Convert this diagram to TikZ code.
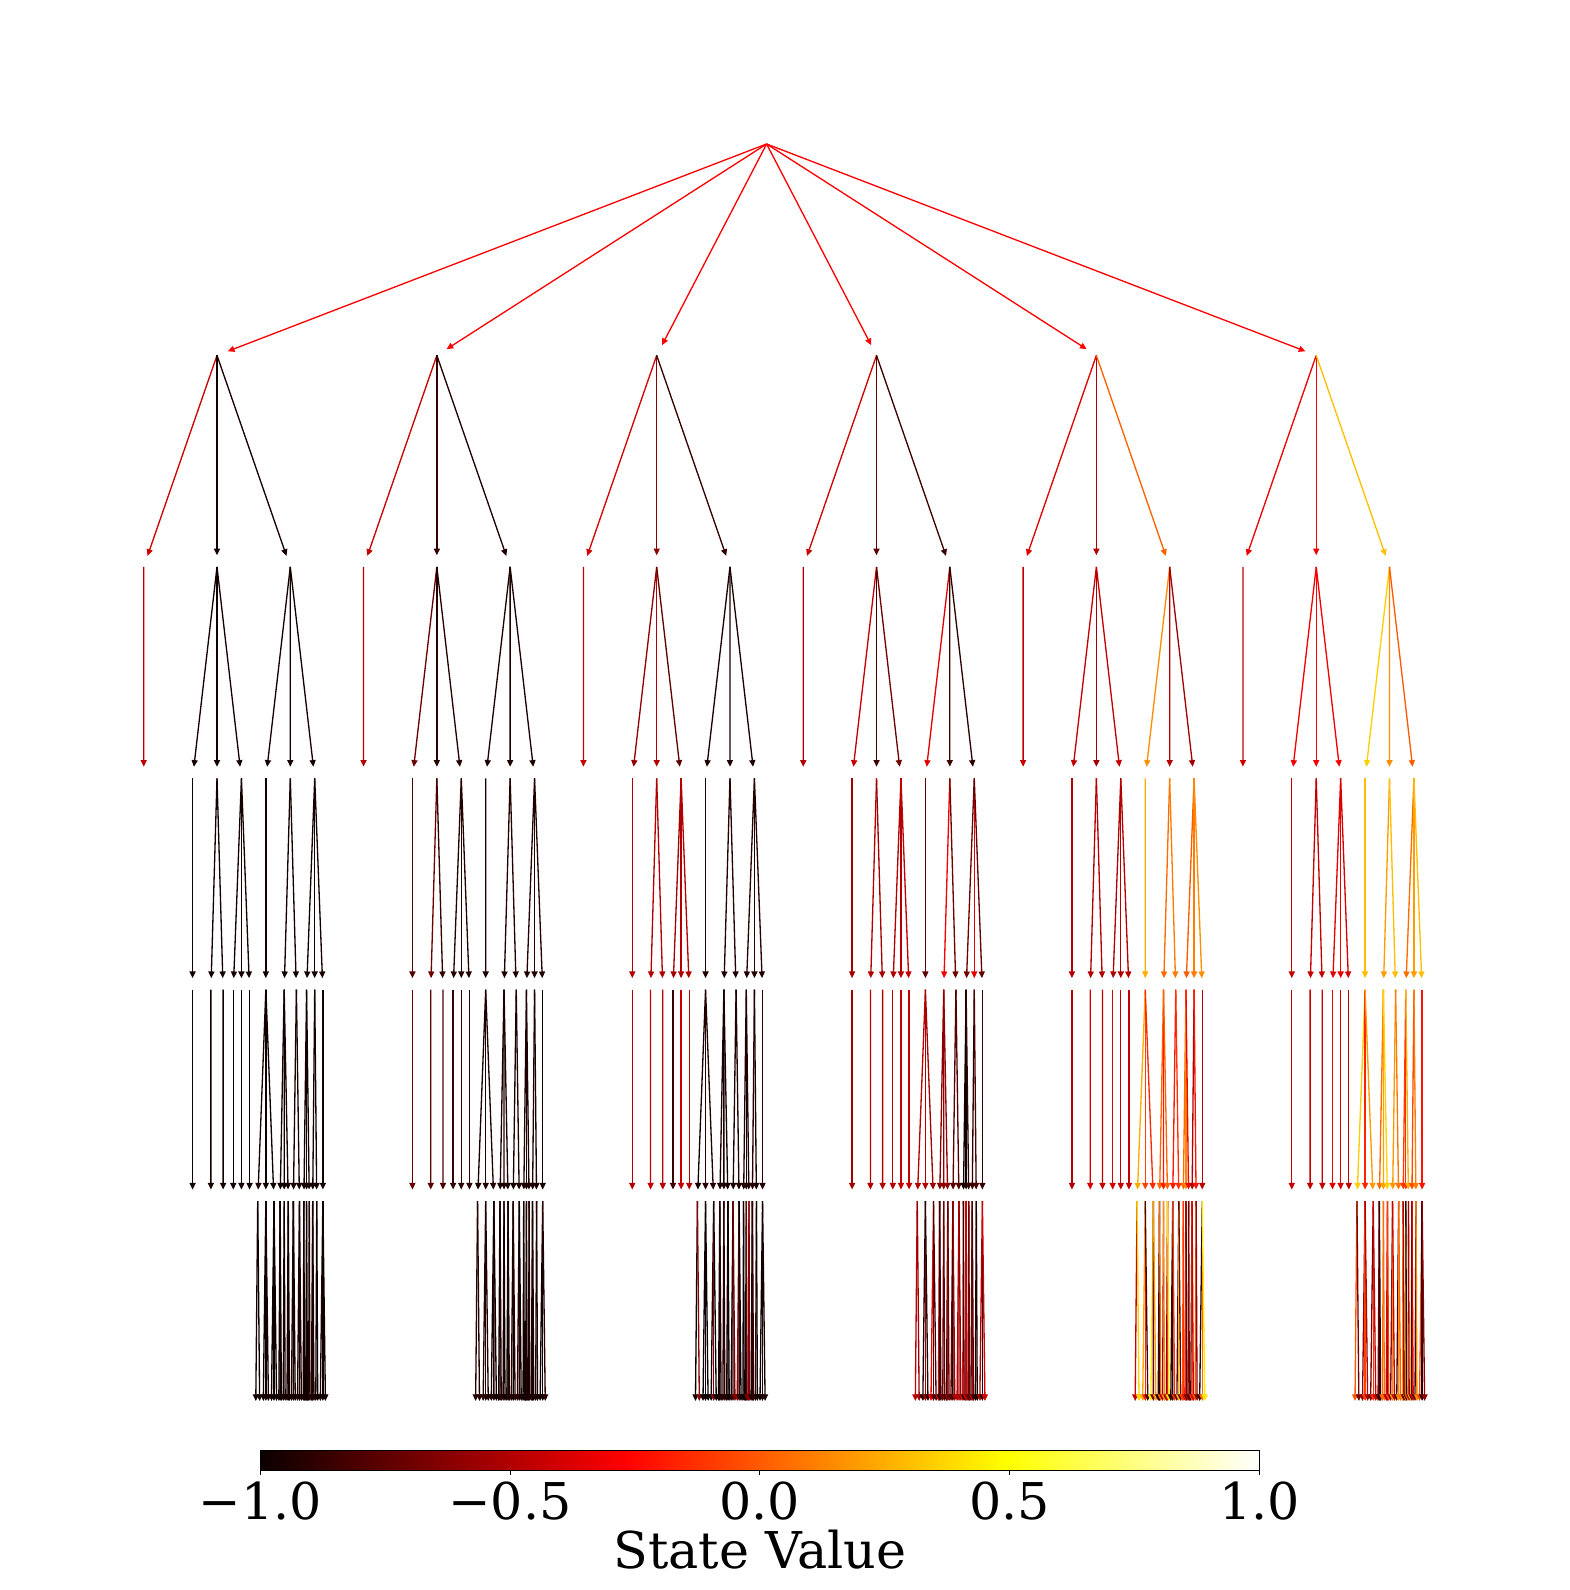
\documentclass[tikz,border=0pt]{standalone}
\usepackage{fontspec}
\newfontfamily\dvs{DejaVu Serif}
\usetikzlibrary{arrows.meta}
\definecolor{hotzero}{rgb}{0.0416,0,0}
\pgfdeclarehorizontalshading{hotbar}{100bp}{color(0bp)=(hotzero); color(25bp)=(hotzero); color(43.25bp)=(red); color(62.3bp)=(yellow); color(75bp)=(white); color(100bp)=(white)}
\tikzset{edg/.style={line width=0.65pt,-{Triangle[length=3.3pt,width=3pt]},shorten >=5.7pt},
  ticklab/.style={font=\dvs\fontsize{25}{29}\selectfont,anchor=base,inner sep=0pt}}
\newcommand\hotcol[2]{%
  \pgfmathsetmacro\hT{((#2)+1)/2}%
  \pgfmathsetmacro\hR{min(1,0.0416+0.9584*\hT/0.365)}%
  \pgfmathsetmacro\hG{min(1,max(0,(\hT-0.365)/0.381))}%
  \pgfmathsetmacro\hB{min(1,max(0,(\hT-0.746)/0.254))}%
  \definecolor{#1}{rgb}{\hR,\hG,\hB}}
\newcommand\edge[3]{\hotcol{ec}{#3}\draw[edg,draw=ec] (#1) -- (#2);}
\def\Ya{350.5}\def\Yb{559}\def\Yc{767.5}\def\Yd{976}\def\Ye{1184.5}\def\Yf{1393}
% children with explicit value indices
\newcommand\kids[6]{%
  \foreach \idx [count=\ii] in {#6}{%
    \pgfmathsetmacro\kx{#2+(#4)/(#5)*(\ii-1-((#5)-1)/2)}%
    \coordinate (#1-\ii) at (\kx,#3);%
    \pgfmathsetmacro\kv{\curarr[\idx]}%
    \edge{#1}{#1-\ii}{\kv}}}
% fan children: base value plus jitter
\newcommand\fkids[6]{%
  \pgfmathsetmacro\fb{\curarr[#6]}\pgfmathsetmacro\fj{\curarr[37]}%
  \foreach \ii in {1,...,#5}{%
    \pgfmathsetmacro\kx{#2+(#4)/(#5)*(\ii-1-((#5)-1)/2)}%
    \coordinate (#1-\ii) at (\kx,#3);%
    \pgfmathsetmacro\kv{max(-1,min(1,\fb+\fj*(2*rnd-1)))}%
    \edge{#1}{#1-\ii}{\kv}}}
% leaves at the last level
\newcommand\lkids[4]{%
  \pgfmathsetmacro\llo{\curarr[34]}\pgfmathsetmacro\lhi{\curarr[35]}\pgfmathsetmacro\lp{\curarr[36]}%
  \foreach \ii in {1,...,#4}{%
    \pgfmathsetmacro\kx{#2+(#3)/(#4)*(\ii-1-((#4)-1)/2)}%
    \coordinate (#1-\ii) at (\kx,\Yf);%
    \pgfmathsetmacro\kv{\llo+(\lhi-\llo)*pow(rnd*0.998+0.001,\lp)}%
    \edge{#1}{#1-\ii}{\kv}}}
\newcommand\subtree[3]{%
  \def\curarr{{#3}}%
  \coordinate (s#1) at (#2,\Ya);
  \edge{root}{s#1}{-0.27}
  \kids{s#1}{#2}{\Yb}{216.8}{3}{0,1,2}
  \kids{s#1-1}{#2-72.27}{\Yc}{72.27}{1}{3}
  \kids{s#1-2}{#2}{\Yc}{72.27}{3}{4,5,6}
  \kids{s#1-3}{#2+72.27}{\Yc}{72.27}{3}{7,8,9}
  \kids{s#1-2-1}{#2-24.09}{\Yd}{24.09}{1}{10}
  \kids{s#1-2-2}{#2}{\Yd}{24.09}{2}{11,12}
  \kids{s#1-2-3}{#2+24.09}{\Yd}{24.09}{3}{13,14,15}
  \kids{s#1-3-1}{#2+48.18}{\Yd}{24.09}{1}{16}
  \kids{s#1-3-2}{#2+72.27}{\Yd}{24.09}{2}{17,18}
  \kids{s#1-3-3}{#2+96.36}{\Yd}{24.09}{3}{19,20,21}
  \kids{s#1-2-1-1}{#2-24.09}{\Ye}{24.09}{1}{22}
  \kids{s#1-2-2-1}{#2-6.02}{\Ye}{12}{1}{23}
  \kids{s#1-2-2-2}{#2+6.02}{\Ye}{12}{1}{24}
  \kids{s#1-2-3-1}{#2+16.06}{\Ye}{8}{1}{25}
  \kids{s#1-2-3-2}{#2+24.09}{\Ye}{8}{1}{26}
  \kids{s#1-2-3-3}{#2+32.12}{\Ye}{8}{1}{27}
  \fkids{s#1-3-1-1}{#2+48.18}{\Ye}{24.09}{3}{28}
  \fkids{s#1-3-2-1}{#2+66.25}{\Ye}{12.045}{3}{29}
  \fkids{s#1-3-2-2}{#2+78.29}{\Ye}{12.045}{2}{30}
  \fkids{s#1-3-3-1}{#2+88.33}{\Ye}{8.03}{3}{31}
  \fkids{s#1-3-3-2}{#2+96.36}{\Ye}{8.03}{2}{32}
  \fkids{s#1-3-3-3}{#2+104.39}{\Ye}{8.03}{1}{33}
  \lkids{s#1-3-1-1-1}{#2+40.15}{8.03}{2}
  \lkids{s#1-3-1-1-2}{#2+48.18}{8.03}{3}
  \lkids{s#1-3-1-1-3}{#2+56.21}{8.03}{3}
  \lkids{s#1-3-2-1-1}{#2+62.24}{4.015}{3}
  \lkids{s#1-3-2-1-2}{#2+66.25}{4.015}{2}
  \lkids{s#1-3-2-1-3}{#2+70.27}{4.015}{3}
  \lkids{s#1-3-2-2-1}{#2+75.28}{6.02}{3}
  \lkids{s#1-3-2-2-2}{#2+81.30}{6.02}{3}
  \lkids{s#1-3-3-1-1}{#2+85.65}{2.68}{2}
  \lkids{s#1-3-3-1-2}{#2+88.33}{2.68}{3}
  \lkids{s#1-3-3-1-3}{#2+91.01}{2.68}{2}
  \lkids{s#1-3-3-2-1}{#2+94.35}{4.015}{3}
  \lkids{s#1-3-3-2-2}{#2+98.37}{4.015}{2}
  \lkids{s#1-3-3-3-1}{#2+104.39}{8.03}{3}
}
\begin{document}
\begin{tikzpicture}[x=0.5pt,y=-0.5pt]
\useasboundingbox[fill=white] (0,0) rectangle (1548,1568);
\pgfmathsetseed{7}
\coordinate (root) at (756,142);
\subtree{0}{214}{-0.42,-0.97,-0.97, -0.47,-0.97,-0.97,-0.97,-0.97,-0.97,-0.97, -0.97,-0.97,-0.97,-0.97,-0.97,-0.97,-0.97,-0.97,-0.97,-0.97,-0.97,-0.97, -0.97,-0.97,-0.97,-0.97,-0.97,-0.97, -0.97,-0.97,-0.97,-0.97,-0.97,-0.97, -1,-0.93,1,0.02}
\subtree{1}{430.8}{-0.44,-0.87,-0.94, -0.5,-0.72,-0.92,-0.92,-0.95,-0.95,-0.95, -0.8,-0.7,-0.88,-0.93,-0.93,-0.93,-0.95,-0.93,-0.93,-0.93,-0.93,-0.93, -0.72,-0.77,-0.8,-0.88,-0.9,-0.9, -0.95,-0.95,-0.95,-0.95,-0.95,-0.95, -1,-0.9,1,0.02}
\subtree{2}{647.6}{-0.4,-0.6,-0.88, -0.45,-0.6,-0.5,-0.75,-0.95,-0.95,-0.95, -0.5,-0.5,-0.5,-0.55,-0.5,-0.5,-0.95,-0.92,-0.92,-0.92,-0.92,-0.92, -0.5,-0.45,-0.48,-0.85,-0.45,-0.5, -0.93,-0.93,-0.93,-0.93,-0.93,-0.93, -1,-0.45,3,0.03}
\subtree{3}{864.4}{-0.42,-0.75,-0.85, -0.5,-0.45,-0.85,-0.7,-0.35,-0.85,-0.9, -0.55,-0.5,-0.55,-0.5,-0.5,-0.45,-0.75,-0.3,-0.7,-0.7,-0.35,-0.75, -0.55,-0.5,-0.5,-0.5,-0.45,-0.45, -0.55,-0.5,-0.75,-0.95,-0.85,-0.85, -0.97,-0.25,1.3,0.12}
\subtree{4}{1081.2}{-0.37,-0.5,0.02, -0.45,-0.45,-0.55,-0.45,0.15,-0.5,-0.55, -0.5,-0.5,-0.5,-0.5,-0.5,-0.5,0.25,0.05,0.1,0.0,0.1,0.15, -0.5,-0.4,-0.45,-0.4,-0.45,-0.45, 0.05,-0.25,0.1,-0.15,-0.5,-0.3, -0.97,0.5,1.3,0.3}
\subtree{5}{1298}{-0.32,-0.3,0.3, -0.42,-0.3,-0.3,-0.3,0.35,0.15,0.0, -0.45,-0.45,-0.45,-0.35,-0.35,-0.4,0.3,0.2,0.3,0.05,0.2,0.3, -0.45,-0.45,-0.45,-0.35,-0.4,-0.45, 0.1,0.1,0.0,0.0,0.0,0.0, -0.95,0.3,1.2,0.3}
% colour bar
\shade[shading=hotbar] (256.5,1430.5) rectangle (1242,1450.5);
\draw[line width=0.4pt] (256.5,1430.5) rectangle (1242,1450.5);
\foreach \tx/\tl [count=\tn] in {256.5/{−1.0},502.9/{−0.5},749.25/{0.0},995.6/{0.5},1242/{1.0}}{
  \draw[line width=0.4pt] (\tx,1450.5) -- (\tx,1454.5);
  \node[ticklab] (tick\tn) at (\tx,1498) {\tl};
}
\node[ticklab] (cblabel) at (749.25,1547) {State Value};
\end{tikzpicture}
\end{document}
